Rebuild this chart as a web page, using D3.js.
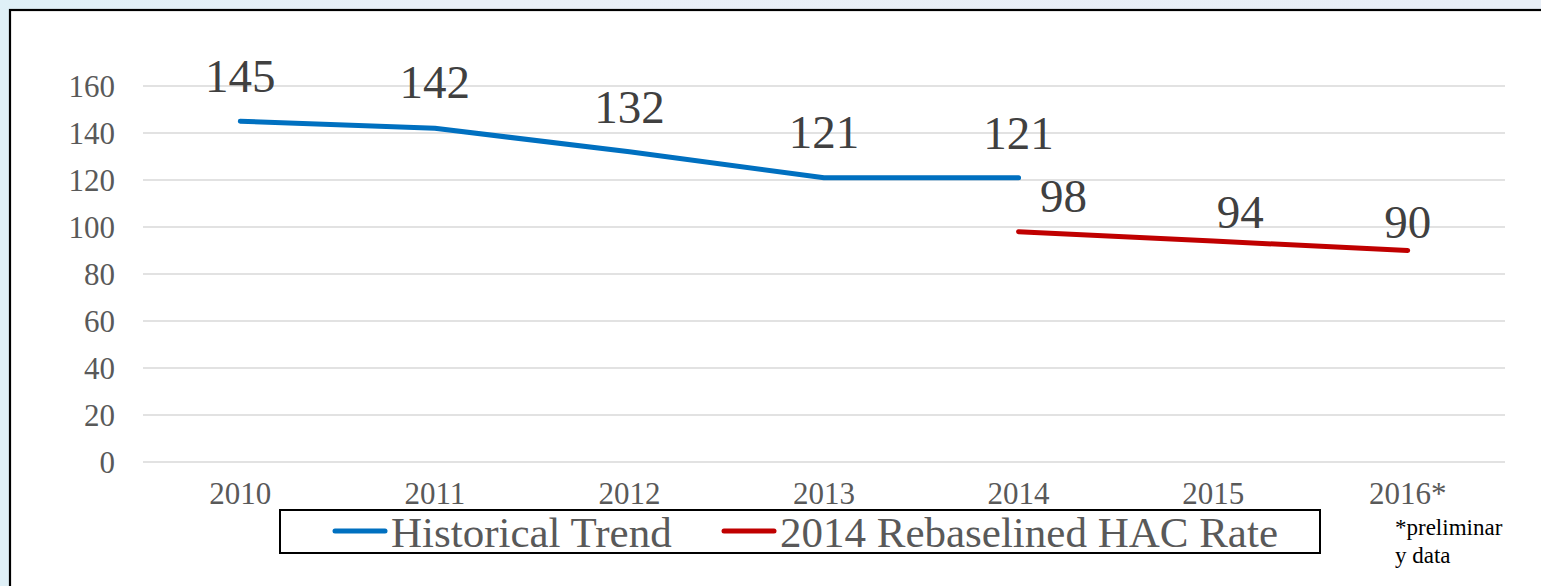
<!DOCTYPE html>
<html>
<head>
<meta charset="utf-8">
<script src="https://cdn.jsdelivr.net/npm/d3@7"></script>
<style>
  html, body { margin: 0; padding: 0; }
  body { width: 1541px; height: 586px; overflow: hidden;
         background: linear-gradient(90deg, #dff0f7 0%, #e9eff7 30%, #e8eef6 100%); }
  svg { display: block; }
  text { font-family: "Times New Roman", Times, "Liberation Serif", Tinos, serif; }
</style>
</head>
<body>
<svg id="chart" width="1541" height="586"></svg>
<script>
const categories = ["2010", "2011", "2012", "2013", "2014", "2015", "2016*"];
const historical = [145, 142, 132, 121, 121, null, null];
const rebaselined = [null, null, null, null, 98, 94, 90];
const yTicks = [0, 20, 40, 60, 80, 100, 120, 140, 160];
const seriesNames = ["Historical Trend", "2014 Rebaselined HAC Rate"];
const footnote = ["*preliminar", "y data"];

const svg = d3.select("#chart");

// frame
svg.append("rect").attr("x", 10).attr("y", 10).attr("width", 1600).attr("height", 700)
  .attr("fill", "#fff").attr("stroke", "#000").attr("stroke-width", 2.2);

const x = d3.scaleBand().domain(categories).range([143, 1505]).padding(0);
const y = d3.scaleLinear().domain([0, 160]).range([462, 86]);
const cx = c => x(c) + x.bandwidth() / 2;

// gridlines
svg.append("g").selectAll("line").data(yTicks).join("line")
  .attr("x1", 143).attr("x2", 1505)
  .attr("y1", d => y(d)).attr("y2", d => y(d))
  .attr("stroke", "#d9d9d9").attr("stroke-width", 1.6);

// y axis labels
const yAxis = svg.append("g").attr("transform", "translate(143,0)")
  .call(d3.axisLeft(y).tickValues(yTicks).tickSize(0).tickPadding(28));
yAxis.select(".domain").remove();
yAxis.attr("font-family", null).attr("font-size", null);
yAxis.selectAll("text").attr("font-size", 31)
  .attr("fill", "#595959").attr("dy", "0.34em");

// x axis labels
const xAxis = svg.append("g").attr("transform", "translate(0,462)")
  .call(d3.axisBottom(x).tickSize(0).tickPadding(26));
xAxis.select(".domain").remove();
xAxis.attr("font-family", null).attr("font-size", null);
xAxis.selectAll("text").attr("font-size", 31)
  .attr("fill", "#595959").attr("dy", "0.5em");

const series = [
  { name: seriesNames[0], values: historical, color: "#0070C0",
    off: [[0, -29], [0, -30], [0, -29], [0, -30], [0, -29]] },
  { name: seriesNames[1], values: rebaselined, color: "#C00000",
    off: [[45, -20], [27, -13], [0, -12.5]] }
];

const line = d3.line()
  .defined(d => d.v != null)
  .x(d => cx(d.c)).y(d => y(d.v));

series.forEach(s => {
  const pts = categories.map((c, i) => ({ c, v: s.values[i] }));
  svg.append("path").datum(pts).attr("d", line)
    .attr("fill", "none").attr("stroke", s.color).attr("stroke-width", 5)
    .attr("stroke-linecap", "round").attr("stroke-linejoin", "round");
  const valid = pts.filter(d => d.v != null);
  svg.append("g").selectAll("text").data(valid).join("text")
    .attr("x", (d, i) => cx(d.c) + s.off[i][0])
    .attr("y", (d, i) => y(d.v) + s.off[i][1])
    .attr("text-anchor", "middle")
    .attr("font-size", 47).attr("fill", "#404040")
    .text(d => d.v);
});

// legend
const lg = svg.append("g");
lg.append("rect").attr("x", 280).attr("y", 510).attr("width", 1040).attr("height", 43)
  .attr("fill", "#fff").attr("stroke", "#000").attr("stroke-width", 2);
const legendItems = [
  { x: 333, color: series[0].color, name: seriesNames[0] },
  { x: 722, color: series[1].color, name: seriesNames[1] }
];
legendItems.forEach(it => {
  lg.append("line").attr("x1", it.x + 2).attr("x2", it.x + 52)
    .attr("y1", 531).attr("y2", 531)
    .attr("stroke", it.color).attr("stroke-width", 5).attr("stroke-linecap", "round");
  lg.append("text").attr("x", it.x + 58).attr("y", 547)
    .attr("font-size", 43).attr("fill", "#595959")
    .text(it.name);
});

// footnote
svg.append("g").selectAll("text").data(footnote).join("text")
  .attr("x", 1395).attr("y", (d, i) => 535 + i * 28)
  .attr("font-size", 23).attr("fill", "#000")
  .text(d => d);
</script>
</body>
</html>
